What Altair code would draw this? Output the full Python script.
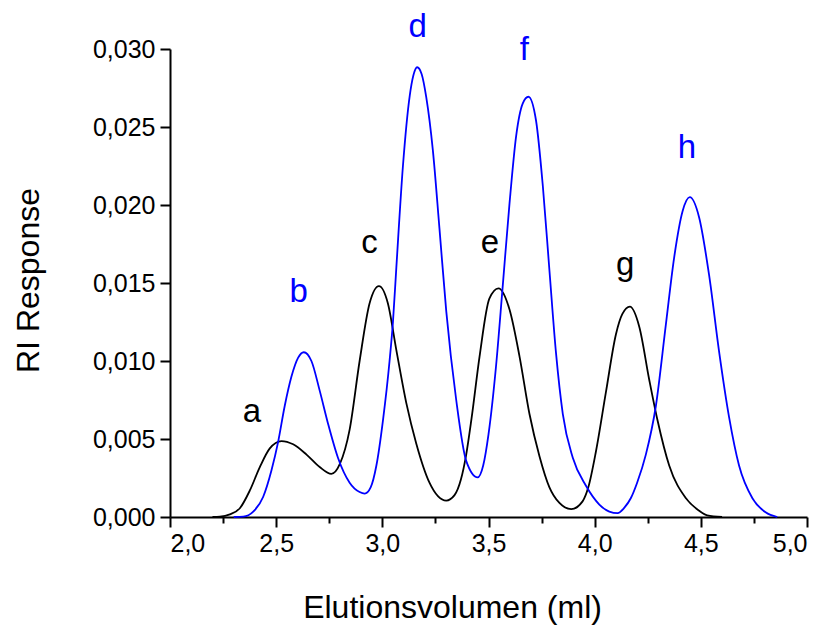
import altair as alt
import pandas as pd

# ---- data ----
black_x = [2.20, 2.235, 2.282, 2.329, 2.376, 2.423, 2.470, 2.525, 2.580, 2.643,
           2.705, 2.760, 2.800, 2.846, 2.893, 2.940, 2.984, 3.026, 3.066, 3.113,
           3.160, 3.222, 3.301, 3.340, 3.370, 3.395, 3.420, 3.458, 3.504, 3.547,
           3.599, 3.646, 3.693, 3.740, 3.787, 3.834, 3.890, 3.943, 3.970, 4.006,
           4.053, 4.100, 4.130, 4.166, 4.210, 4.257, 4.296, 4.351, 4.430, 4.492,
           4.530, 4.600]
black_y = [0.0, 0.00002, 0.00017, 0.00056, 0.0017, 0.0032, 0.0044, 0.00487, 0.00466, 0.0040,
           0.0032, 0.00276, 0.0034, 0.0056, 0.0100, 0.0137, 0.0148, 0.0137, 0.0107, 0.0073,
           0.0047, 0.0022, 0.00105, 0.0014, 0.0024, 0.0040, 0.0063, 0.0103, 0.0140, 0.01466,
           0.0133, 0.0103, 0.0066, 0.0039, 0.0019, 0.0009, 0.0005, 0.0010, 0.0019, 0.0042,
           0.0080, 0.0117, 0.0130, 0.01348, 0.0122, 0.0088, 0.0062, 0.0033, 0.0012, 0.0004,
           0.0001, 0.0]

blue_x = [2.300, 2.345, 2.392, 2.439, 2.478, 2.509, 2.540, 2.572, 2.603, 2.630,
          2.666, 2.705, 2.744, 2.791, 2.846, 2.893, 2.917, 2.945, 2.972, 3.003,
          3.034, 3.050, 3.066, 3.097, 3.129, 3.146, 3.164, 3.185, 3.207, 3.238,
          3.269, 3.301, 3.348, 3.395, 3.449, 3.475, 3.500, 3.535, 3.567, 3.599,
          3.630, 3.661, 3.688, 3.724, 3.756, 3.787, 3.818, 3.850, 3.897, 3.959,
          4.022, 4.069, 4.108, 4.140, 4.170, 4.200, 4.241, 4.288, 4.335, 4.374,
          4.414, 4.448, 4.492, 4.539, 4.586, 4.633, 4.680, 4.743, 4.805, 4.860]
blue_y = [0.0, 0.00002, 0.00034, 0.0013, 0.0030, 0.0048, 0.0071, 0.0090, 0.0102, 0.01056,
          0.0100, 0.0081, 0.0060, 0.0038, 0.0022, 0.0016, 0.0015, 0.0019, 0.0033, 0.0062,
          0.0100, 0.0125, 0.0160, 0.0225, 0.0270, 0.0283, 0.02883, 0.0284, 0.0269, 0.0235,
          0.0185, 0.0132, 0.0075, 0.0036, 0.00254, 0.0033, 0.0053, 0.0096, 0.0148, 0.0201,
          0.0244, 0.0265, 0.02694, 0.0254, 0.0212, 0.0158, 0.0105, 0.0066, 0.0038, 0.0020,
          0.0008, 0.00035, 0.00025, 0.0006, 0.0012, 0.0022, 0.0040, 0.0071, 0.0123, 0.0166,
          0.0196, 0.0205, 0.0192, 0.0155, 0.0106, 0.0064, 0.0033, 0.0012, 0.0003, 0.0]

peak_labels = ["a", "b", "c", "d", "e", "f", "g", "h"]
peak_label_x = [2.386, 2.606, 2.940, 3.166, 3.507, 3.669, 4.144, 4.435]
peak_label_y = [0.00612, 0.0138, 0.01692, 0.03077, 0.01692, 0.0293, 0.01551, 0.0230]
peak_label_series = ["black", "blue", "black", "blue", "black", "blue", "black", "blue"]

x_tick_values = [2.0, 2.25, 2.5, 2.75, 3.0, 3.25, 3.5, 3.75, 4.0, 4.25, 4.5, 4.75, 5.0]
y_tick_values = [0.0, 0.0025, 0.005, 0.0075, 0.01, 0.0125, 0.015, 0.0175,
                 0.02, 0.0225, 0.025, 0.0275, 0.03]

# ---- tables ----
curves = pd.concat([
    pd.DataFrame({"x": black_x, "y": black_y, "series": "black"}),
    pd.DataFrame({"x": blue_x, "y": blue_y, "series": "blue"}),
], ignore_index=True)
labels = pd.DataFrame({"x": peak_label_x, "y": peak_label_y,
                       "text": peak_labels, "series": peak_label_series})

FONT = "Liberation Sans"
x_major = "abs(datum.value*2 - round(datum.value*2)) < 0.001"
y_major = "abs(datum.value*200 - round(datum.value*200)) < 0.001"

x_scale = alt.Scale(domain=[2.0, 5.0], nice=False, zero=False)
y_scale = alt.Scale(domain=[0.0, 0.03], nice=False)
color_scale = alt.Scale(domain=["black", "blue"], range=["#000000", "#0000ff"])

x_axis = alt.Axis(
    title="Elutionsvolumen (ml)", values=x_tick_values, grid=False,
    labelExpr=f"{x_major} ? replace(format(datum.value, '.1f'), '.', ',') : ''",
    labelOverlap=False, labelFont=FONT, labelFontSize=25, labelColor="black",
    labelPadding=4,
    tickSize={"condition": {"test": x_major, "value": 10}, "value": 6},
    tickColor="black", tickWidth=2, domainColor="black", domainWidth=2,
    titleFont=FONT, titleFontSize=32, titleFontWeight="normal", titleColor="black",
    titleX=282, titleY=90, titleAlign="center", titleBaseline="middle",
)
y_axis = alt.Axis(
    title="RI Response", values=y_tick_values, grid=False,
    labelExpr=f"{y_major} ? replace(format(datum.value, '.3f'), '.', ',') : ''",
    labelOverlap=False, labelFont=FONT, labelFontSize=25, labelColor="black",
    labelPadding=5,
    tickSize={"condition": {"test": y_major, "value": 10}, "value": 6},
    tickColor="black", tickWidth=2, domainColor="black", domainWidth=2,
    titleFont=FONT, titleFontSize=32, titleFontWeight="normal", titleColor="black",
    titleX=-142, titleY=231, titleAlign="center", titleBaseline="middle", titleAngle=-90,
)

lines = alt.Chart(curves).mark_line(strokeWidth=1.8, interpolate="monotone").encode(
    x=alt.X("x:Q", scale=x_scale, axis=x_axis),
    y=alt.Y("y:Q", scale=y_scale, axis=y_axis),
    color=alt.Color("series:N", scale=color_scale, legend=None),
    detail="series:N",
)

texts = alt.Chart(labels).mark_text(
    font=FONT, fontSize=33, align="center", baseline="alphabetic", clip=False
).encode(
    x=alt.X("x:Q", scale=x_scale),
    y=alt.Y("y:Q", scale=y_scale),
    text="text:N",
    color=alt.Color("series:N", scale=color_scale, legend=None),
)

chart = alt.layer(lines, texts).properties(
    width=637, height=468,
    padding={"left": 170, "top": 49, "right": 17, "bottom": 110},
    autosize=alt.AutoSizeParams(type="none"),
    background="white",
).configure_view(stroke=None)

chart.save("out.html", embed_options={"renderer": "svg", "actions": False})
